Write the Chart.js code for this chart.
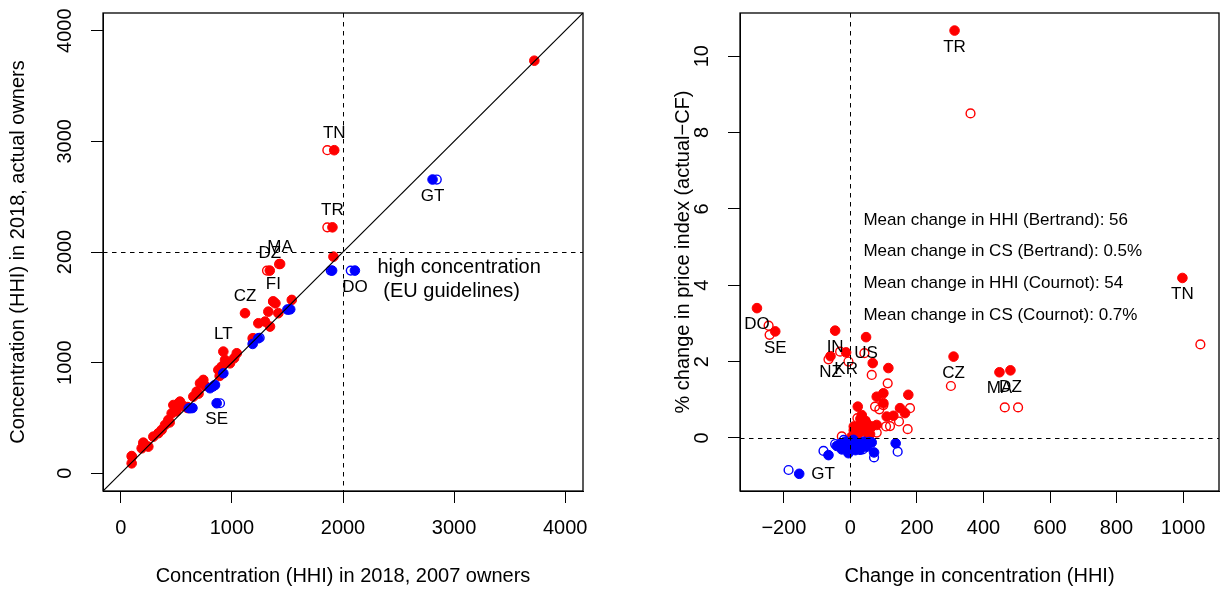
<!DOCTYPE html>
<html>
<head>
<meta charset="utf-8">
<script src="https://cdn.jsdelivr.net/npm/chart.js@4.4.1/dist/chart.umd.min.js"></script>
<style>
  html, body { margin: 0; padding: 0; background: #fff; }
  #wrap { position: relative; width: 1225px; height: 590px; overflow: hidden; }
  #left { position: absolute; left: 0; top: 0; }
  #right { position: absolute; left: 612px; top: 0; }
</style>
</head>
<body>
<div id="wrap">
  <canvas id="left" width="612" height="590" style="width:612px;height:590px"></canvas>
  <canvas id="right" width="613" height="590" style="width:613px;height:590px"></canvas>
</div>
<script>
// ---- Left panel: HHI 2018 with 2007 owners (x) vs actual owners (y) ----
const leftTicks = [0, 1000, 2000, 3000, 4000];

// concentration rose (red); filled = Bertrand, open = Cournot
const leftUpBertrandX = [98, 98, 188, 203, 248, 220, 293, 338, 368, 398, 428, 440, 458, 473, 500, 518, 533, 560, 600, 653, 683, 700, 713, 743, 760, 878, 890, 908, 923, 938, 983, 1044, 1020, 1193, 1238, 1298, 1343, 1328, 1373, 1392, 1118, 1418, 1539, 1341, 1434, 1914, 1905, 1921, 3722];
const leftUpBertrandY = [156, 90, 226, 277, 241, 250, 331, 362, 392, 437, 482, 460, 542, 617, 560, 633, 648, 610, 590, 693, 738, 720, 814, 844, 790, 934, 880, 964, 1100, 1024, 994, 1085, 1040, 1220, 1356, 1371, 1326, 1461, 1552, 1536, 1447, 1447, 1567, 1832, 1892, 1958, 2223, 2920, 3729];
const leftUpCournotX = [1859, 1859, 1316, 1425, 1185, 600, 1370, 100, 205, 900];
const leftUpCournotY = [2920, 2223, 1832, 1890, 1220, 600, 1555, 150, 270, 950];

// concentration fell (blue)
const leftDownBertrandX = [623, 645, 803, 830, 848, 863, 923, 1187, 1238, 1500, 1525, 1902, 2107, 2806];
const leftDownBertrandY = [588, 590, 769, 785, 798, 633, 904, 1169, 1220, 1480, 1482, 1832, 1832, 2655];
const leftDownCournotX = [893, 2070, 2844, 1890, 1250, 1510, 610];
const leftDownCournotY = [633, 1832, 2655, 1832, 1225, 1480, 588];

const leftLabels = ['TN', 'TR', 'MA', 'DZ', 'FI', 'CZ', 'LT', 'SE', 'GT', 'DO'];
const leftLabelX = [1921, 1905, 1434, 1341, 1373, 1118, 923, 863, 2806, 2107];
const leftLabelY = [2920, 2223, 1892, 1832, 1552, 1447, 1100, 633, 2655, 1832];
const leftLabelSide = ['above', 'above', 'above', 'above', 'above', 'above', 'above', 'below', 'below', 'below'];

// ---- Right panel: change in HHI (x) vs % change in price index (y) ----
const rightXTicks = [-200, 0, 200, 400, 600, 800, 1000];
const rightYTicks = [0, 2, 4, 6, 8, 10];

const rightUpBertrandX = [-281, -226, -46, -60, -13, 47, 67, 114, 310, 448, 481, 313, 998, 174, 79, 99, 99, 22, 149, 164, 109, 129, 79, 34, 39, 49, 24, 54, 34, 14, 59, 4, 30, 44, 20, 65, 10, 10, 25, 45, 55, 35, 15, 28];
const rightUpBertrandY = [3.40, 2.79, 2.81, 2.14, 2.24, 2.64, 1.96, 1.83, 2.13, 1.72, 1.77, 10.67, 4.19, 1.13, 1.08, 1.17, 0.91, 0.82, 0.78, 0.65, 0.56, 0.58, 0.34, 0.60, 0.43, 0.38, 0.30, 0.25, 0.17, 0.12, 0.10, 0.04, 0.50, 0.20, 0.05, 0.30, 0.20, 0.30, 0.15, 0.45, 0.05, 0.35, 0.08, 0.25];
const rightUpCournotX = [-246, -243, -66, -31, -6, 42, 64, 112, 302, 361, 1052, 464, 504, 74, 87, 99, 179, 107, 119, 146, 172, 79, -26, 37, 21];
const rightUpCournotY = [2.94, 2.70, 2.06, 2.26, 2.00, 2.22, 1.65, 1.43, 1.36, 8.50, 2.45, 0.80, 0.80, 0.82, 0.75, 0.86, 0.78, 0.30, 0.31, 0.43, 0.23, 0.14, 0.04, -0.01, 0.52];

const rightDownBertrandX = [-154, -66, 136, 71, -41, -26, -6, 4, 19, 29, 49, 64, -16, 9, -30, 40, -10, 15];
const rightDownBertrandY = [-0.94, -0.45, -0.14, -0.38, -0.21, -0.30, -0.40, -0.23, -0.14, -0.31, -0.23, -0.12, -0.10, -0.05, -0.15, -0.10, -0.25, -0.32];
const rightDownCournotX = [-186, -81, 71, 142, -46, 37, 14, 57, -31, -20, 0, 25];
const rightDownCournotY = [-0.84, -0.34, -0.51, -0.36, -0.16, -0.30, -0.23, -0.10, -0.18, -0.05, -0.12, -0.20];

const rightLabels = ['TR', 'TN', 'DO', 'SE', 'IN', 'NZ', 'KR', 'US', 'CZ', 'MA', 'DZ', 'GT'];
const rightLabelX = [313, 998, -281, -226, -46, -60, -13, 47, 310, 448, 481, -154];
const rightLabelY = [10.67, 4.19, 3.40, 2.79, 2.81, 2.14, 2.24, 2.64, 2.13, 1.72, 1.77, -0.94];
const rightLabelSide = ['below', 'below', 'below', 'below', 'below', 'below', 'below', 'below', 'below', 'below', 'below', 'right'];

const rightNotes = [
  'Mean change in HHI (Bertrand): 56',
  'Mean change in CS (Bertrand): 0.5%',
  'Mean change in HHI (Cournot): 54',
  'Mean change in CS (Cournot): 0.7%'
];

// ---- drawing helpers ----
const RED = '#FF0000';
const BLUE = '#0000FF';
const FONT = '"Liberation Sans", Arial, Helvetica, sans-serif';
Chart.defaults.font.family = FONT;
Chart.defaults.color = '#000';

const toPoints = (xs, ys) => xs.map((x, i) => ({ x, y: ys[i] }));

function pointSet(xs, ys, color, filled, order) {
  return {
    data: toPoints(xs, ys),
    showLine: false,
    order,
    pointRadius: filled ? 4.8 : 4.4,
    pointHoverRadius: filled ? 4.8 : 4.4,
    pointBorderWidth: filled ? 1 : 1.4,
    pointBackgroundColor: filled ? color : 'rgba(0,0,0,0)',
    pointBorderColor: color
  };
}

const fmt = v => (v < 0 ? '\u2212' + Math.abs(v) : String(v));

// the frame is fixed by the layout padding, so the axes claim no extra room
function noPadding(s) {
  s.paddingTop = 0; s.paddingBottom = 0; s.paddingLeft = 0; s.paddingRight = 0;
}

function xAxis(min, max, ticks, title) {
  return {
    type: 'linear', min, max,
    afterBuildTicks: s => { s.ticks = ticks.map(v => ({ value: v })); },
    afterFit: s => { s.height = 99; noPadding(s); },
    grid: { display: true, drawOnChartArea: false, drawTicks: true, tickLength: 12, color: '#000', lineWidth: 1 },
    border: { display: true, color: '#000', width: 1 },
    ticks: { font: { size: 20 }, color: '#000', padding: 13, maxRotation: 0, minRotation: 0, autoSkip: false, callback: fmt },
    title: { display: true, text: title, font: { size: 20 }, color: '#000', padding: { top: 0, bottom: 2 } }
  };
}

function yAxis(min, max, ticks, title, width, pad, titlePad) {
  return {
    type: 'linear', min, max,
    afterBuildTicks: s => { s.ticks = ticks.map(v => ({ value: v })); },
    afterFit: s => { s.width = width; noPadding(s); },
    grid: { display: true, drawOnChartArea: false, drawTicks: true, tickLength: 12, color: '#000', lineWidth: 1 },
    border: { display: true, color: '#000', width: 1 },
    ticks: { font: { size: 20 }, color: '#000', padding: pad, minRotation: 90, maxRotation: 90, crossAlign: 'center', autoSkip: false, callback: fmt },
    title: { display: true, text: title, font: { size: 20 }, color: '#000', padding: { top: titlePad, bottom: 0 } }
  };
}

// reference lines, frame and text annotations drawn with the chart's own scales
function overlay(cfg) {
  const crisp = v => Math.round(v) + 0.5;
  return {
    id: 'overlay',
    afterDatasetsDraw(chart) {
      const { ctx, chartArea: a, scales: { x, y } } = chart;
      ctx.save();
      ctx.beginPath();
      ctx.rect(a.left, a.top, a.right - a.left, a.bottom - a.top);
      ctx.clip();
      ctx.strokeStyle = '#000';
      ctx.lineWidth = 1.2;
      if (cfg.diagonal) {
        ctx.beginPath();
        ctx.moveTo(x.getPixelForValue(x.min), y.getPixelForValue(x.min));
        ctx.lineTo(x.getPixelForValue(x.max), y.getPixelForValue(x.max));
        ctx.stroke();
      }
      ctx.lineWidth = 1;
      ctx.setLineDash([4.5, 4.5]);
      const vx = crisp(x.getPixelForValue(cfg.vline));
      ctx.beginPath(); ctx.moveTo(vx, a.top); ctx.lineTo(vx, a.bottom); ctx.stroke();
      const hy = crisp(y.getPixelForValue(cfg.hline));
      ctx.beginPath(); ctx.moveTo(a.left, hy); ctx.lineTo(a.right, hy); ctx.stroke();
      ctx.restore();
    },
    afterDraw(chart) {
      const { ctx, chartArea: a, scales: { x, y } } = chart;
      ctx.save();
      ctx.strokeStyle = '#000';
      ctx.lineWidth = 1.3;
      ctx.strokeRect(a.left, a.top, a.right - a.left, a.bottom - a.top);
      ctx.fillStyle = '#000';
      ctx.textBaseline = 'middle';
      ctx.font = '17px ' + FONT;
      cfg.labels.forEach((t, i) => {
        const px = x.getPixelForValue(cfg.labelX[i]);
        const py = y.getPixelForValue(cfg.labelY[i]);
        const side = cfg.labelSide[i];
        if (side === 'right') { ctx.textAlign = 'left'; ctx.fillText(t, px + 12, py); }
        else if (side === 'above') { ctx.textAlign = 'center'; ctx.fillText(t, px, py - 17); }
        else { ctx.textAlign = 'center'; ctx.fillText(t, px, py + 16.5); }
      });
      (cfg.notes || []).forEach(n => {
        ctx.font = n.size + 'px ' + FONT;
        ctx.textAlign = n.align;
        ctx.fillText(n.text, x.getPixelForValue(n.x), y.getPixelForValue(n.y));
      });
      ctx.restore();
    }
  };
}

new Chart(document.getElementById('left'), {
  type: 'scatter',
  data: {
    datasets: [
      pointSet(leftUpCournotX, leftUpCournotY, RED, false, 4),
      pointSet(leftUpBertrandX, leftUpBertrandY, RED, true, 3),
      pointSet(leftDownCournotX, leftDownCournotY, BLUE, false, 2),
      pointSet(leftDownBertrandX, leftDownBertrandY, BLUE, true, 1)
    ]
  },
  options: {
    responsive: false, animation: false, events: [],
    layout: { padding: { left: 0, top: 13, right: 29, bottom: 0 } },
    plugins: { legend: { display: false }, tooltip: { enabled: false } },
    scales: {
      x: xAxis(-160, 4160, leftTicks, 'Concentration (HHI) in 2018, 2007 owners'),
      y: yAxis(-160, 4160, leftTicks, 'Concentration (HHI) in 2018, actual owners', 103, 3, 6)
    }
  },
  plugins: [overlay({
    diagonal: true, vline: 2000, hline: 2000,
    labels: leftLabels, labelX: leftLabelX, labelY: leftLabelY, labelSide: leftLabelSide,
    notes: [
      { text: 'high concentration', x: 3045, y: 1856, size: 20, align: 'center' },
      { text: '(EU guidelines)', x: 2978, y: 1639, size: 20, align: 'center' }
    ]
  })]
});

new Chart(document.getElementById('right'), {
  type: 'scatter',
  data: {
    datasets: [
      pointSet(rightUpCournotX, rightUpCournotY, RED, false, 4),
      pointSet(rightUpBertrandX, rightUpBertrandY, RED, true, 3),
      pointSet(rightDownCournotX, rightDownCournotY, BLUE, false, 2),
      pointSet(rightDownBertrandX, rightDownBertrandY, BLUE, true, 1)
    ]
  },
  options: {
    responsive: false, animation: false, events: [],
    layout: { padding: { left: 0, top: 13, right: 6, bottom: 0 } },
    plugins: { legend: { display: false }, tooltip: { enabled: false } },
    scales: {
      x: xAxis(-332, 1108, rightXTicks, 'Change in concentration (HHI)'),
      y: yAxis(-1.39, 11.13, rightYTicks, '% change in price index (actual\u2212CF)', 128, 14, 59)
    }
  },
  plugins: [overlay({
    diagonal: false, vline: 0, hline: 0,
    labels: rightLabels, labelX: rightLabelX, labelY: rightLabelY, labelSide: rightLabelSide,
    notes: rightNotes.map((t, i) => ({ text: t, x: 39, y: [5.71, 4.88, 4.04, 3.20][i], size: 17, align: 'left' }))
  })]
});
</script>
</body>
</html>
